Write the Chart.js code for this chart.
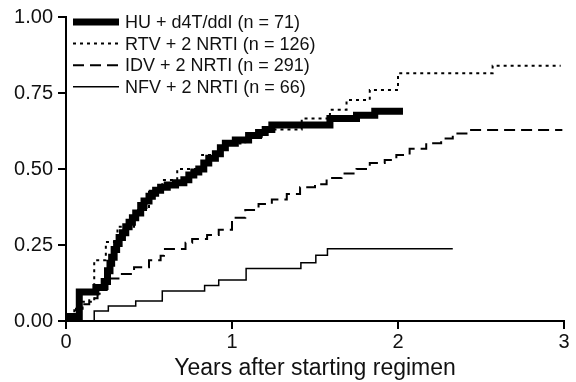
<!DOCTYPE html>
<html>
<head>
<meta charset="utf-8">
<script src="https://cdn.jsdelivr.net/npm/chart.js@4/dist/chart.umd.min.js"></script>
<style>
  html, body { margin: 0; padding: 0; background: #fff; }
  canvas { display: block; }
</style>
</head>
<body>
<canvas id="chart" width="576" height="382"></canvas>
<script>
// step data: time (years) and cumulative proportion from that time on
const seriesLabels = [
  "HU + d4T/ddI (n = 71)",
  "RTV + 2 NRTI (n = 126)",
  "IDV + 2 NRTI (n = 291)",
  "NFV + 2 NRTI (n = 66)"
];

const huTimes = [0, 0.02, 0.08, 0.18, 0.23, 0.25, 0.265, 0.275, 0.29, 0.305, 0.32, 0.34, 0.36, 0.38, 0.40, 0.42, 0.45, 0.47, 0.50, 0.52, 0.54, 0.57, 0.61, 0.66, 0.71, 0.74, 0.77, 0.80, 0.83, 0.86, 0.90, 0.93, 0.96, 1.02, 1.10, 1.16, 1.20, 1.24, 1.59, 1.75, 1.86, 2.03];
const huValues = [0, 0.015, 0.095, 0.11, 0.13, 0.165, 0.19, 0.21, 0.235, 0.255, 0.275, 0.29, 0.31, 0.325, 0.34, 0.355, 0.38, 0.395, 0.41, 0.42, 0.43, 0.44, 0.447, 0.455, 0.465, 0.48, 0.49, 0.50, 0.52, 0.535, 0.55, 0.57, 0.585, 0.595, 0.61, 0.62, 0.63, 0.645, 0.666, 0.677, 0.69, 0.69];

const rtvTimes = [0, 0.02, 0.06, 0.10, 0.17, 0.24, 0.31, 0.41, 0.50, 0.58, 0.67, 0.82, 0.94, 1.08, 1.20, 1.42, 1.59, 1.69, 1.83, 2.00, 2.57, 2.98];
const rtvValues = [0, 0.015, 0.04, 0.063, 0.2, 0.26, 0.31, 0.365, 0.425, 0.464, 0.50, 0.546, 0.584, 0.606, 0.63, 0.666, 0.695, 0.727, 0.76, 0.815, 0.84, 0.84];

const idvTimes = [0, 0.02, 0.05, 0.09, 0.14, 0.19, 0.22, 0.25, 0.33, 0.41, 0.50, 0.57, 0.59, 0.72, 0.76, 0.85, 0.92, 1.00, 1.08, 1.16, 1.24, 1.33, 1.41, 1.50, 1.57, 1.66, 1.75, 1.83, 1.92, 1.99, 2.07, 2.17, 2.26, 2.33, 2.43, 2.99];
const idvValues = [0, 0.015, 0.035, 0.055, 0.075, 0.09, 0.105, 0.14, 0.155, 0.177, 0.2, 0.215, 0.237, 0.257, 0.27, 0.283, 0.30, 0.34, 0.365, 0.385, 0.40, 0.418, 0.44, 0.45, 0.47, 0.485, 0.50, 0.52, 0.53, 0.546, 0.567, 0.585, 0.60, 0.617, 0.628, 0.628];

const nfvTimes = [0, 0.17, 0.255, 0.42, 0.58, 0.835, 0.92, 1.085, 1.415, 1.505, 1.575, 2.33];
const nfvValues = [0, 0.033, 0.049, 0.066, 0.099, 0.117, 0.135, 0.173, 0.192, 0.216, 0.238, 0.238];

const xTicks = [0, 1, 2, 3];
const yTicks = [0, 0.25, 0.5, 0.75, 1];

function pts(ts, vs) {
  return ts.map((t, i) => ({ x: t, y: vs[i] }));
}

const FONT = '"Liberation Sans", Arial, sans-serif';

const legendPlugin = {
  id: "lineLegend",
  afterDraw(chart) {
    const ctx = chart.ctx;
    ctx.save();
    chart.data.datasets.forEach((ds, i) => {
      const y = 22 + i * 21.6;
      ctx.beginPath();
      ctx.setLineDash(ds.borderDash || []);
      ctx.lineWidth = ds.borderWidth;
      ctx.strokeStyle = "#000";
      ctx.moveTo(73, y);
      ctx.lineTo(119, y);
      ctx.stroke();
      ctx.setLineDash([]);
      ctx.fillStyle = "#111";
      ctx.font = "18px " + FONT;
      ctx.textBaseline = "middle";
      ctx.fillText(ds.label, 125, y + 1);
    });
    ctx.restore();
  }
};

new Chart(document.getElementById("chart"), {
  type: "line",
  data: {
    datasets: [
      { label: seriesLabels[0], data: pts(huTimes, huValues), borderWidth: 7, order: 4 },
      { label: seriesLabels[1], data: pts(rtvTimes, rtvValues), borderWidth: 2, borderDash: [3, 4], order: 3 },
      { label: seriesLabels[2], data: pts(idvTimes, idvValues), borderWidth: 2, borderDash: [11, 6], order: 2 },
      { label: seriesLabels[3], data: pts(nfvTimes, nfvValues), borderWidth: 1.5, order: 1 }
    ].map(d => Object.assign({
      borderColor: "#000",
      backgroundColor: "#000",
      stepped: "before",
      pointRadius: 0,
      fill: false,
      borderCapStyle: "butt"
    }, d))
  },
  options: {
    responsive: false,
    animation: false,
    layout: { padding: { left: 0, right: 12, top: 16, bottom: 0 } },
    plugins: { legend: { display: false }, tooltip: { enabled: false } },
    scales: {
      x: {
        type: "linear",
        min: 0, max: 3,
        afterFit(s) { s.height = 61; },
        afterBuildTicks(s) { s.ticks = xTicks.map(v => ({ value: v })); },
        ticks: { color: "#111", font: { family: FONT, size: 20 }, padding: 1, callback: v => String(v) },
        grid: { drawOnChartArea: false, drawTicks: true, tickLength: 8, color: "#000", lineWidth: 2 },
        border: { display: true, color: "#000", width: 2 },
        title: { display: true, text: "Years after starting regimen", color: "#111", font: { family: FONT, size: 23 }, padding: { top: 0, bottom: 0 } }
      },
      y: {
        type: "linear",
        min: 0, max: 1,
        afterFit(s) { s.width = 66; },
        afterBuildTicks(s) { s.ticks = yTicks.map(v => ({ value: v })); },
        ticks: { color: "#111", font: { family: FONT, size: 20 }, padding: 5, callback: v => v.toFixed(2) },
        grid: { drawOnChartArea: false, drawTicks: true, tickLength: 8, color: "#000", lineWidth: 2 },
        border: { display: true, color: "#000", width: 2 }
      }
    }
  },
  plugins: [legendPlugin]
});
</script>
</body>
</html>
